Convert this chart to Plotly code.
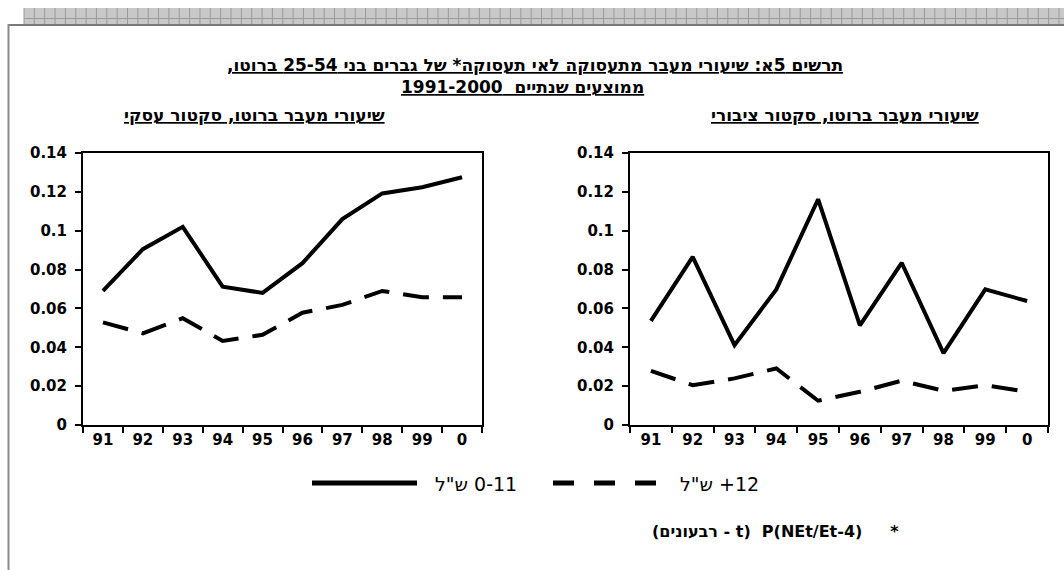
import plotly.graph_objects as go

W, H = 1064, 570

# ---- data ----
years = ["91", "92", "93", "94", "95", "96", "97", "98", "99", "0"]
business_low = [0.069, 0.0905, 0.102, 0.0712, 0.068, 0.0833, 0.106, 0.1192, 0.1224, 0.1275]
business_high = [0.0528, 0.0472, 0.055, 0.0433, 0.0464, 0.0578, 0.0618, 0.069, 0.0658, 0.0658]
public_low = [0.0536, 0.0865, 0.0411, 0.0698, 0.1162, 0.0513, 0.0835, 0.037, 0.0698, 0.0638]
public_high = [0.0279, 0.0205, 0.024, 0.0291, 0.0125, 0.0171, 0.0228, 0.0176, 0.0205, 0.0171]
y_ticks = [0, 0.02, 0.04, 0.06, 0.08, 0.1, 0.12, 0.14]
y_tick_labels = ["0", "0.02", "0.04", "0.06", "0.08", "0.1", "0.12", "0.14"]

title_line1 = "תרשים 5א: שיעורי מעבר מתעסוקה לאי תעסוקה* של גברים בני 25-54 ברוטו,\u200f"
title_line2 = "ממוצעים שנתיים  1991-2000"
left_title = "שיעורי מעבר ברוטו, סקטור עסקי"
right_title = "שיעורי מעבר ברוטו, סקטור ציבורי"
legend_low = 'ש"ל\u200e 0-11'
legend_high = 'ש"ל\u200e +12'
footnote = "(רבעונים - t)  P(NEt/Et-4)     *"

FONT = "DejaVu Sans"


def px(x):
    return x / W


def py(y):
    return 1 - y / H


fig = go.Figure()

line_solid = dict(color="black", width=4)
line_dash = dict(color="black", width=4, dash="26px,14px")

fig.add_trace(go.Scatter(x=years, y=business_high, mode="lines", line=line_dash,
                         xaxis="x", yaxis="y", showlegend=False, hoverinfo="skip"))
fig.add_trace(go.Scatter(x=years, y=business_low, mode="lines", line=line_solid,
                         xaxis="x", yaxis="y", showlegend=False, hoverinfo="skip"))
fig.add_trace(go.Scatter(x=years, y=public_high, mode="lines", line=line_dash,
                         xaxis="x2", yaxis="y2", showlegend=False, hoverinfo="skip"))
fig.add_trace(go.Scatter(x=years, y=public_low, mode="lines", line=line_solid,
                         xaxis="x2", yaxis="y2", showlegend=False, hoverinfo="skip"))

tickfont = dict(family=FONT, size=15, color="black", weight="bold")

xcommon = dict(type="category", range=[-0.5, 9.5], tickson="boundaries",
               ticks="outside", ticklen=6, tickwidth=2, tickcolor="black",
               showline=True, linecolor="black", linewidth=2, mirror=True,
               showgrid=False, zeroline=False, tickfont=tickfont, fixedrange=True,
               automargin=False)
ycommon = dict(range=[0, 0.14], tickvals=y_ticks, ticktext=y_tick_labels,
               ticks="outside", ticklen=6, tickwidth=2, tickcolor="black",
               showline=True, linecolor="black", linewidth=2, mirror=True,
               showgrid=False, zeroline=False, tickfont=tickfont, fixedrange=True,
               automargin=False, ticklabelstandoff=5)

ydom = [py(425), py(153)]

fig.update_layout(
    width=W, height=H,
    autosize=False,
    margin=dict(l=0, r=0, t=0, b=0, pad=0, autoexpand=False),
    paper_bgcolor="white", plot_bgcolor="white",
    showlegend=False,
    xaxis=dict(domain=[px(83), px(482)], anchor="y", **xcommon),
    yaxis=dict(domain=ydom, anchor="x", **ycommon),
    xaxis2=dict(domain=[px(630), px(1048)], anchor="y2", **xcommon),
    yaxis2=dict(domain=ydom, anchor="x2", **ycommon),
)

annotations = []


def add_text(text, x, y, size, bold=True, underline=False, xanchor="center"):
    t = text
    if underline:
        t = "<u>" + t + "</u>"
    annotations.append(dict(
        text=t, x=px(x), y=py(y), xref="paper", yref="paper",
        xanchor=xanchor, yanchor="middle", showarrow=False,
        font=dict(family=FONT, size=size, color="black", weight="bold" if bold else "normal"),
    ))


add_text(title_line1, 535, 65, 17, underline=True)
add_text(title_line2, 522, 87, 17, underline=True)
add_text(left_title, 254, 115, 17, underline=True)
add_text(right_title, 845, 115, 17, underline=True)
add_text(legend_low, 433, 484, 19, bold=False, xanchor="left")
add_text(legend_high, 678, 484, 19, bold=False, xanchor="left")
add_text(footnote, 650, 531, 16, xanchor="left")

fig.update_layout(annotations=annotations)

shapes = []
# decorative top band
shapes.append(dict(type="rect", xref="paper", yref="paper", x0=px(24), x1=1,
                   y0=py(24), y1=py(8), fillcolor="#c8c8c8", line=dict(width=0), layer="below"))
xx = 24
while xx < W:
    shapes.append(dict(type="line", xref="paper", yref="paper", x0=px(xx), x1=px(xx),
                       y0=py(24), y1=py(8), line=dict(color="#9a9a9a", width=1)))
    xx += 10.35
shapes.append(dict(type="line", xref="paper", yref="paper", x0=px(24), x1=1,
                   y0=py(18.5), y1=py(18.5), line=dict(color="#9a9a9a", width=1)))
# frame
shapes.append(dict(type="line", xref="paper", yref="paper", x0=px(8), x1=1,
                   y0=py(25), y1=py(25), line=dict(color="#7a7a7a", width=2)))
shapes.append(dict(type="line", xref="paper", yref="paper", x0=px(8.5), x1=px(8.5),
                   y0=py(24), y1=0, line=dict(color="#8c8c8c", width=2)))
# legend keys
shapes.append(dict(type="line", xref="paper", yref="paper", x0=px(312), x1=px(417),
                   y0=py(483), y1=py(483), line=dict(color="black", width=5)))
shapes.append(dict(type="line", xref="paper", yref="paper", x0=px(553), x1=px(657),
                   y0=py(483), y1=py(483), line=dict(color="black", width=5, dash="21px,20px")))

fig.update_layout(shapes=shapes)

fig.write_html(
    "out.html",
    config={"displayModeBar": False},
    post_script="document.body.style.margin='0';document.body.style.overflow='hidden';"
                "document.documentElement.style.overflow='hidden';",
)
